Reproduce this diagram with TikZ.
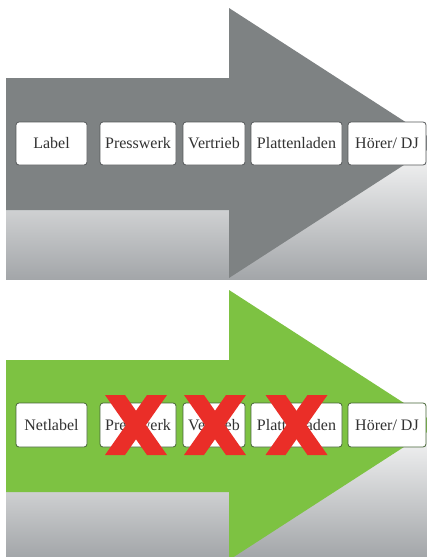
\documentclass[tikz,border=0pt]{standalone}
\usepackage{fontspec}
\setmainfont{Liberation Serif}
\definecolor{arrowgray}{RGB}{126,130,131}
\definecolor{arrowgreen}{RGB}{125,194,66}
\definecolor{bgdark}{RGB}{163,166,169}
\definecolor{boxline}{RGB}{85,88,90}
\definecolor{boxlinegreen}{RGB}{70,100,55}
\definecolor{txt}{RGB}{50,50,50}
\definecolor{xred}{RGB}{234,46,40}
\tikzset{
  box/.style={draw=boxline, fill=white, rounded corners=3pt, line width=0.8pt,
    inner sep=0pt, font=\fontsize{16}{16}\selectfont, text=txt},
  gbox/.style={box, draw=boxlinegreen},
  xbar/.style={fill=xred, draw=none},
}
\begin{document}
\begin{tikzpicture}[x=1pt,y=-1pt]
\useasboundingbox (0,0) rectangle (427,557);
% backgrounds
\fill[white] (0,0) rectangle (427,557);
\shade[top color=white, bottom color=bgdark] (6,135) rectangle (427,279);
\shade[top color=white, bottom color=bgdark] (6,417) rectangle (427,557);
% arrows
\begin{scope}
\clip (0,0) rectangle (427,557);
\fill[arrowgray] (6,78) -- (229,78) -- (229,8) -- (438,143) -- (229,278) -- (229,210) -- (6,210) -- cycle;
\fill[arrowgreen] (6,360) -- (229,360) -- (229,290) -- (438,425) -- (229,560) -- (229,492) -- (6,492) -- cycle;
\end{scope}
% top row
\node[box, minimum width=71pt, minimum height=43pt] (t1) at (51.5,143.5) {Label};
\node[box, minimum width=76pt, minimum height=43pt] (t2) at (138,143.5) {Presswerk};
\node[box, minimum width=62pt, minimum height=43pt] (t3) at (214,143.5) {Vertrieb};
\node[box, minimum width=91pt, minimum height=43pt] (t4) at (296.5,143.5) {Plattenladen};
\node[box, minimum width=78pt, minimum height=43pt] (t5) at (387,143.5) {Hörer/ DJ};
% bottom row
\node[gbox, minimum width=71pt, minimum height=44pt] (b1) at (51.5,425) {Netlabel};
\node[gbox, minimum width=76pt, minimum height=44pt] (b2) at (138,425) {Presswerk};
\node[gbox, minimum width=62pt, minimum height=44pt] (b3) at (214,425) {Vertrieb};
\node[gbox, minimum width=91pt, minimum height=44pt] (b4) at (296.5,425) {Plattenladen};
\node[gbox, minimum width=78pt, minimum height=44pt] (b5) at (387,425) {Hörer/ DJ};
% red crosses
\foreach \c in {136,215,296.5}{
  \fill[xbar] (\c-31,395) -- (\c-11,395) -- (\c+31,455) -- (\c+11,455) -- cycle;
  \fill[xbar] (\c+11,395) -- (\c+31,395) -- (\c-11,455) -- (\c-31,455) -- cycle;
}
\end{tikzpicture}
\end{document}
